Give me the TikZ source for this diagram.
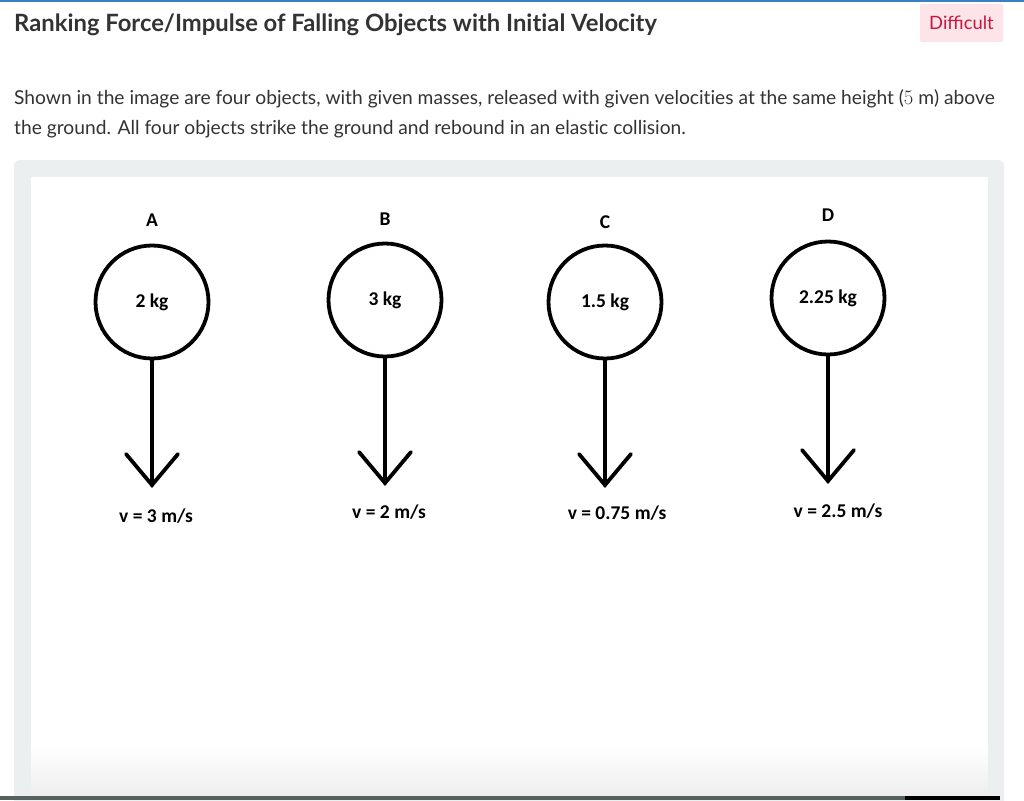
\documentclass[tikz,border=0pt]{standalone}
\usepackage{fontspec}
\setmainfont{Lato}[Ligatures=NoCommon]
\newfontfamily\latolig{Lato}
\newfontfamily\carlitofont{Carlito}
\usetikzlibrary{calc}
\definecolor{txt}{HTML}{333333}
\definecolor{topblue}{HTML}{3A7FC4}
\definecolor{badgebg}{HTML}{FCE4E8}
\definecolor{badgetx}{HTML}{C8173F}
\definecolor{panel}{HTML}{ECEFF0}
\definecolor{barcol}{HTML}{56605E}
\tikzset{
  ball/.style={circle, draw=black, line width=3.8pt, minimum size=113pt, inner sep=0pt, font=\carlitofont\bfseries\fontsize{19.5}{22}\selectfont},
  lbl/.style={font=\carlitofont\bfseries\fontsize{19.5}{22}\selectfont, inner sep=0pt},
  vel/.style={line width=3.8pt, line cap=round},
  barb/.style={line width=3.8pt, line cap=round, line join=miter},
}
\begin{document}
\begin{tikzpicture}[x=1pt,y=-1pt]
\useasboundingbox (0,0) rectangle (1024,800);
\fill[white] (0,0) rectangle (1024,800);
\fill[topblue] (0,0) rectangle (1024,2);
% title
\node[anchor=base west, inner sep=0pt, text=txt, font=\bfseries\fontsize{23.8}{26}\selectfont] (title) at (14,32) {Ranking Force/Impulse of Falling Objects with Initial Velocity};
% badge
\fill[badgebg, rounded corners=2pt] (920,4) rectangle (1003,42);
\node[anchor=center, inner sep=0pt, text=badgetx, font=\latolig\fontsize{18.4}{20}\selectfont] (badge) at (961.5,23) {Difficult};
% paragraph
\node[anchor=base west, inner sep=0pt, text=txt, font=\fontsize{19.2}{22}\selectfont] (p1) at (14,104) {Shown in the image are four objects, with given masses, released with given velocities at the same height ($5\ \mathrm{m}$) above};
\node[anchor=base west, inner sep=0pt, text=txt, font=\fontsize{19.2}{22}\selectfont] (p2) at (14,134) {the ground. All four objects strike the ground and rebound in an elastic collision.};
% panel
\fill[panel, rounded corners=6pt] (14,160) rectangle (1004,812);
\fill[white] (31,177) rectangle (988,800);
\shade[top color=white, bottom color=black!7] (31,745) rectangle (988,797);
\fill[barcol] (0,796) rectangle (905,800);
\fill[black] (905,796) rectangle (1000,800);
% objects
\foreach \n/\x/\y/\ly/\m/\v/\vx/\vy in {A/152/302/220/2 kg/3/156/516, B/385/300/219/3 kg/2/389/512, C/605/302/222/1.5 kg/0.75/617/513, D/828/298/215/2.25 kg/2.5/838/511}{
  \node[lbl] (l\n) at (\x,\ly) {\n};
  \node[ball] (c\n) at (\x,\y) {\raisebox{1pt}{\m}};
  \coordinate (t\n) at (\x,\y+183);
  \draw[vel] (c\n.south) -- (t\n);
  \draw[barb] ($(t\n)+(-26,-31)$) -- (t\n) -- ($(t\n)+(26,-31)$);
  \node[lbl] (v\n) at (\vx,\vy) {v = \v\ m/s};
}
\end{tikzpicture}
\end{document}
